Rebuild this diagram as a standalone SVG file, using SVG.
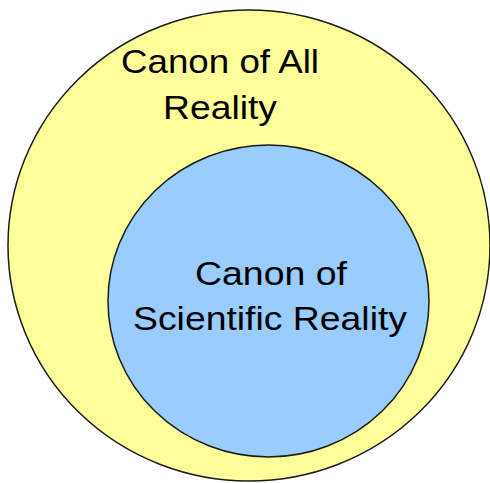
<svg xmlns="http://www.w3.org/2000/svg" width="490" height="483" viewBox="0 0 490 483">
<style>
.shape{stroke:#1a1a1a;stroke-width:1.5}
.lbl{font-family:"Liberation Sans",Arial,sans-serif;font-size:34px;fill:#000;text-anchor:middle}
</style>
<rect width="490" height="483" fill="#fff"/>
<g id="all-reality">
<ellipse class="shape" cx="249" cy="245.5" rx="241" ry="235.5" fill="#FFFF99"/>
<text class="lbl" x="220" y="73" textLength="198" lengthAdjust="spacingAndGlyphs">Canon of All</text>
<text class="lbl" x="220" y="119" textLength="114" lengthAdjust="spacingAndGlyphs">Reality</text>
</g>
<g id="scientific-reality">
<ellipse class="shape" cx="268.5" cy="301" rx="160.5" ry="156" fill="#99CCFF"/>
<text class="lbl" x="271" y="285" textLength="152" lengthAdjust="spacingAndGlyphs">Canon of</text>
<text class="lbl" x="270" y="330" textLength="274" lengthAdjust="spacingAndGlyphs">Scientific Reality</text>
</g>
<g id="connectors"/>
</svg>
